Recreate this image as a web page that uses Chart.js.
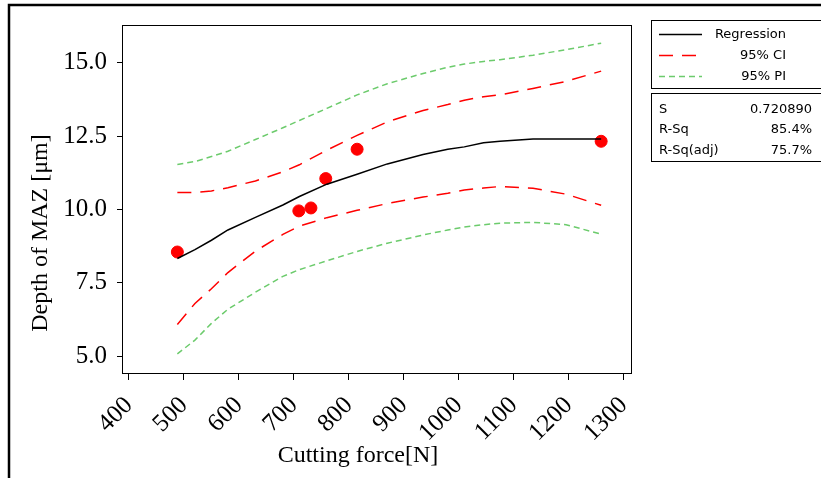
<!DOCTYPE html>
<html>
<head>
<meta charset="utf-8">
<script src="https://cdn.jsdelivr.net/npm/chart.js@4.4.1/dist/chart.umd.min.js"></script>
<style>
  html, body { margin: 0; padding: 0; background: #fff; }
  #wrap { width: 821px; height: 478px; position: relative; }
</style>
</head>
<body>
<div id="wrap"><canvas id="fitPlot" width="821" height="478"></canvas></div>
<script>
// observed cutting force vs. MAZ depth
const forceObs = [488, 709, 731, 758, 815, 1259];
const mazObs = [8.55, 9.95, 10.05, 11.05, 12.05, 12.32];

// fitted curve and bands, sampled along the force range
const forceFit = [488, 520, 550, 580, 630, 680, 710, 760, 815, 870, 935, 980, 1010, 1045, 1075, 1135, 1195, 1259];
const regression = [8.33, 8.63, 8.95, 9.30, 9.73, 10.15, 10.44, 10.86, 11.20, 11.55, 11.87, 12.05, 12.13, 12.27, 12.32, 12.40, 12.40, 12.40];
const upperCI = [10.58, 10.58, 10.63, 10.74, 10.97, 11.28, 11.52, 12.02, 12.52, 12.98, 13.37, 13.57, 13.72, 13.84, 13.90, 14.12, 14.36, 14.71];
const lowerCI = [6.08, 6.80, 7.30, 7.85, 8.58, 9.15, 9.43, 9.72, 9.97, 10.20, 10.42, 10.55, 10.66, 10.73, 10.78, 10.72, 10.52, 10.14];
const upperPI = [11.53, 11.63, 11.80, 11.98, 12.38, 12.78, 13.03, 13.44, 13.90, 14.28, 14.63, 14.84, 14.95, 15.04, 15.10, 15.25, 15.44, 15.66];
const lowerPI = [5.08, 5.55, 6.12, 6.60, 7.18, 7.72, 7.95, 8.25, 8.57, 8.85, 9.13, 9.30, 9.40, 9.48, 9.53, 9.56, 9.48, 9.16];

const xTicks = [400, 500, 600, 700, 800, 900, 1000, 1100, 1200, 1300];
const yTicks = [5, 7.5, 10, 12.5, 15];

const legendRows = [
    { label: 'Regression', color: '#000', dash: [] },
    { label: '95% CI', color: '#ff0000', dash: [14, 9] },
    { label: '95% PI', color: '#6ccb6c', dash: [6, 4] }
];
const statNames = ['S', 'R-Sq', 'R-Sq(adj)'];
const statValues = ['0.720890', '85.4%', '75.7%'];

const toPoints = (xs, ys) => xs.map((x, i) => ({ x: x, y: ys[i] }));

const serif = '"Liberation Serif", "Times New Roman", serif';
const sans = '"DejaVu Sans", Verdana, sans-serif';

function lineSet(label, ys, color, dash) {
    return {
        label: label,
        data: toPoints(forceFit, ys),
        borderColor: color,
        borderWidth: 1.5,
        borderDash: dash,
        pointRadius: 0,
        tension: 0,
        fill: false,
        showLine: true
    };
}

// frame, axis titles and the two boxes on the right
const decorations = {
    id: 'decorations',
    afterDraw(chart) {
        const ctx = chart.ctx;
        const a = chart.chartArea;
        ctx.save();

        // page frame
        ctx.strokeStyle = '#000';
        ctx.lineWidth = 2.5;
        ctx.beginPath();
        ctx.moveTo(9, 478);
        ctx.lineTo(9, 5);
        ctx.lineTo(821, 5);
        ctx.stroke();

        // plot box
        ctx.lineWidth = 1;
        ctx.strokeRect(Math.round(a.left) + 0.5, Math.round(a.top) + 0.5,
            Math.round(a.right - a.left), Math.round(a.bottom - a.top));

        // axis titles
        ctx.fillStyle = '#000';
        ctx.font = '24px ' + serif;
        ctx.textAlign = 'center';
        ctx.textBaseline = 'middle';
        ctx.fillText('Cutting force[N]', 358, 456);
        ctx.save();
        ctx.translate(41, 233);
        ctx.rotate(-Math.PI / 2);
        ctx.fillText('Depth of MAZ [\u03bcm]', 0, 0);
        ctx.restore();

        // legend box
        ctx.strokeRect(651.5, 20.5, 200, 68);
        ctx.font = '13px ' + sans;
        legendRows.forEach((row, i) => {
            const y = 34.5 + i * 21;
            ctx.strokeStyle = row.color;
            ctx.lineWidth = 1.5;
            ctx.setLineDash(row.dash);
            ctx.beginPath();
            ctx.moveTo(659, y);
            ctx.lineTo(702, y);
            ctx.stroke();
            ctx.setLineDash([]);
            ctx.textAlign = 'right';
            ctx.fillText(row.label, 786, y);
        });

        // summary box
        ctx.strokeStyle = '#000';
        ctx.lineWidth = 1;
        ctx.strokeRect(651.5, 93.5, 200, 68);
        statNames.forEach((name, i) => {
            const y = 109.5 + i * 20.5;
            ctx.textAlign = 'left';
            ctx.fillText(name, 659, y);
            ctx.textAlign = 'right';
            ctx.fillText(statValues[i], 812, y);
        });
        ctx.restore();
    }
};

const ctx = document.getElementById('fitPlot').getContext('2d');
const fitPlot = new Chart(ctx, {
    type: 'scatter',
    data: {
        datasets: [
            lineSet('95% PI upper', upperPI, '#6ccb6c', [6, 4]),
            lineSet('95% PI lower', lowerPI, '#6ccb6c', [6, 4]),
            lineSet('95% CI upper', upperCI, '#ff0000', [14, 9]),
            lineSet('95% CI lower', lowerCI, '#ff0000', [14, 9]),
            lineSet('Regression', regression, '#000', []),
            {
                label: 'Observed',
                data: toPoints(forceObs, mazObs),
                backgroundColor: '#ff0000',
                borderColor: '#ff0000',
                pointRadius: 6,
                showLine: false
            }
        ]
    },
    options: {
        responsive: false,
        animation: false,
        devicePixelRatio: 1,
        layout: { padding: { left: 0, top: 21, right: 190, bottom: 0 } },
        plugins: {
            legend: { display: false },
            tooltip: { enabled: false }
        },
        scales: {
            x: {
                type: 'linear',
                min: 387.3,
                max: 1313.3,
                afterBuildTicks: s => { s.ticks = xTicks.map(v => ({ value: v })); },
                afterFit: s => { s.height = 105; },
                border: { display: false },
                grid: { drawOnChartArea: false, drawTicks: true, tickLength: 7, color: '#000', tickColor: '#000' },
                ticks: {
                    autoSkip: false,
                    minRotation: 45,
                    maxRotation: 45,
                    padding: 11,
                    color: '#000',
                    font: { family: serif, size: 25 },
                    callback: v => String(v)
                }
            },
            y: {
                type: 'linear',
                min: 4.43,
                max: 16.28,
                afterBuildTicks: s => { s.ticks = yTicks.map(v => ({ value: v })); },
                afterFit: s => { s.width = 122; },
                border: { display: false },
                grid: { drawOnChartArea: false, drawTicks: true, tickLength: 5, color: '#000', tickColor: '#000' },
                ticks: {
                    padding: 10,
                    color: '#000',
                    font: { family: serif, size: 25 },
                    callback: v => Number(v).toFixed(1)
                }
            }
        }
    },
    plugins: [decorations]
});
</script>
</body>
</html>
